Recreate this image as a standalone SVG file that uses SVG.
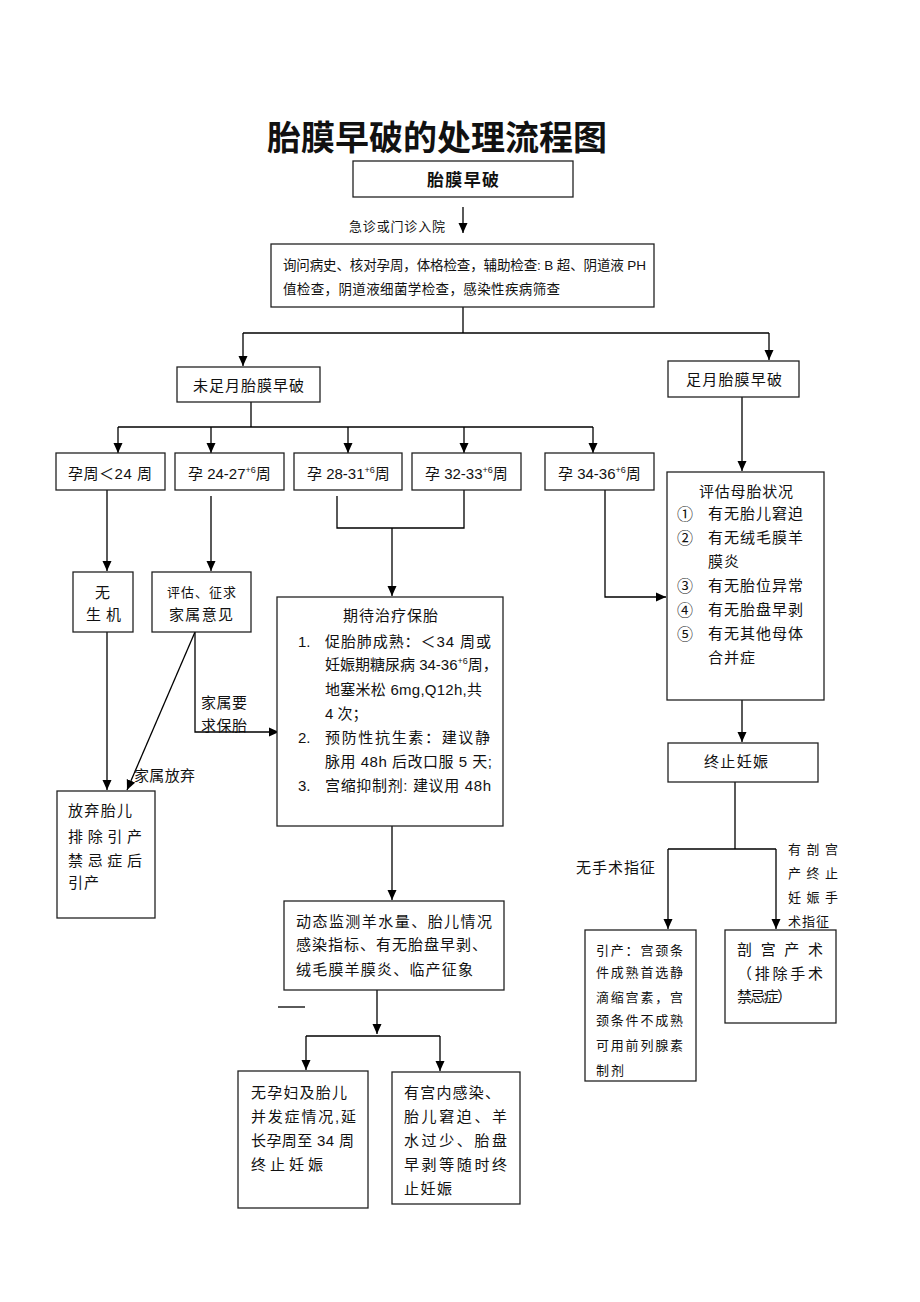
<svg xmlns="http://www.w3.org/2000/svg" width="920" height="1302" viewBox="0 0 920 1302">
<defs>
<marker id="arr" markerUnits="userSpaceOnUse" markerWidth="10" markerHeight="10" refX="10" refY="5" orient="auto">
<path d="M0,0.5 L10,5 L0,9.5 z" fill="#000"/>
</marker>
<style>
.box{fill:#fff;stroke:#222;stroke-width:1.3}
.ln{fill:none;stroke:#000;stroke-width:1.3}
.ar{fill:none;stroke:#000;stroke-width:1.3;marker-end:url(#arr)}
text{font-family:"Liberation Sans","Noto Sans CJK SC",sans-serif;fill:#111}
.t15{font-size:15px}
.t13{font-size:13px}
.sup{font-size:9px}
.cn{font-family:"Noto Sans CJK SC",sans-serif;font-size:16px}
</style>
</defs>
<rect width="920" height="1302" fill="#fff"/>

<text x="267" y="150" font-size="34" font-weight="bold" textLength="340" lengthAdjust="spacing">胎膜早破的处理流程图</text>

<g id="connectors">
<path class="ar" d="M463,207 V233"/>
<path class="ln" d="M463,307 V333"/>
<path class="ln" d="M243,333 H769"/>
<path class="ar" d="M243,333 V366"/>
<path class="ar" d="M769,333 V360"/>
<path class="ln" d="M251,402 V427"/>
<path class="ln" d="M118,427 H593"/>
<path class="ar" d="M118,427 V453"/>
<path class="ar" d="M211,427 V453"/>
<path class="ar" d="M348,427 V453"/>
<path class="ar" d="M464,427 V453"/>
<path class="ar" d="M593,427 V453"/>
<path class="ar" d="M107,490 V571"/>
<path class="ar" d="M211,496 V571"/>
<path class="ln" d="M337,496 V528 H464 V490"/>
<path class="ar" d="M392,528 V596"/>
<path class="ar" d="M605,490 V597 H666"/>
<path class="ar" d="M742,397 V471"/>
<path class="ar" d="M742,700 V742"/>
<path class="ln" d="M735,782 V849"/>
<path class="ln" d="M668,849 H776"/>
<path class="ar" d="M668,849 V929"/>
<path class="ar" d="M776,849 V929"/>
<path class="ar" d="M107,632 V790"/>
<path class="ar" d="M195,632 L127,790"/>
<path class="ar" d="M195,632 V732 H279"/>
<path class="ar" d="M392,826 V900"/>
<path class="ln" d="M278,1007 H305"/>
<path class="ar" d="M377,990 V1034"/>
<path class="ln" d="M306,1036 H440"/>
<path class="ar" d="M306,1036 V1070"/>
<path class="ar" d="M440,1036 V1071"/>
</g>

<g id="edge-labels">
<text class="t13" x="349" y="231" textLength="96" lengthAdjust="spacing">急诊或门诊入院</text>
<text class="t15" x="134" y="781" textLength="61" lengthAdjust="spacing">家属放弃</text>
<text class="t15" x="201" y="708" textLength="46" lengthAdjust="spacing">家属要</text>
<text class="t15" x="201" y="731" textLength="46" lengthAdjust="spacing">求保胎</text>
<text class="t15" x="576" y="873" textLength="79" lengthAdjust="spacing">无手术指征</text>
<text class="t13" x="788" y="854" textLength="50" lengthAdjust="spacing">有 剖 宫</text>
<text class="t13" x="788" y="878" textLength="50" lengthAdjust="spacing">产 终 止</text>
<text class="t13" x="788" y="902" textLength="50" lengthAdjust="spacing">妊 娠 手</text>
<text class="t13" x="788" y="926" textLength="41" lengthAdjust="spacing">术指征</text>
</g>

<g id="n-start">
<rect class="box" x="353" y="161" width="220" height="36"/>
<text x="427" y="186" font-size="17" font-weight="bold" textLength="72" lengthAdjust="spacing">胎膜早破</text>
</g>

<g id="n-exam">
<rect class="box" x="271" y="244" width="383" height="63"/>
<text x="283" y="270" font-size="13.5" textLength="363" lengthAdjust="spacing">询问病史、核对孕周，体格检查，辅助检查: B 超、阴道液 PH</text>
<text x="283" y="294" font-size="13.5" textLength="277" lengthAdjust="spacing">值检查，阴道液细菌学检查，感染性疾病筛查</text>
</g>

<g id="n-preterm">
<rect class="box" x="177" y="367" width="143" height="35"/>
<text class="t15" x="193" y="391" textLength="111" lengthAdjust="spacing">未足月胎膜早破</text>
</g>

<g id="n-term">
<rect class="box" x="668" y="361" width="131" height="36"/>
<text class="t15" x="686" y="385" textLength="96" lengthAdjust="spacing">足月胎膜早破</text>
</g>

<g id="n-w24">
<rect class="box" x="56" y="453" width="109" height="37"/>
<text class="t15" x="68" y="479" textLength="84" lengthAdjust="spacing">孕周＜24 周</text>
</g>

<g id="n-w24-27">
<rect class="box" x="175" y="453" width="109" height="37"/>
<text class="t15" x="188" y="479">孕 24-27<tspan class="sup" dy="-6">+6</tspan><tspan dy="6">周</tspan></text>
</g>

<g id="n-w28-31">
<rect class="box" x="294" y="453" width="108" height="37"/>
<text class="t15" x="307" y="479">孕 28-31<tspan class="sup" dy="-6">+6</tspan><tspan dy="6">周</tspan></text>
</g>

<g id="n-w32-33">
<rect class="box" x="412" y="453" width="109" height="37"/>
<text class="t15" x="425" y="479">孕 32-33<tspan class="sup" dy="-6">+6</tspan><tspan dy="6">周</tspan></text>
</g>

<g id="n-w34-36">
<rect class="box" x="545" y="453" width="109" height="37"/>
<text class="t15" x="558" y="479">孕 34-36<tspan class="sup" dy="-6">+6</tspan><tspan dy="6">周</tspan></text>
</g>

<g id="n-assess">
<rect class="box" x="667" y="472" width="157" height="228"/>
<text class="t15" x="699" y="497" textLength="94" lengthAdjust="spacing">评估母胎状况</text>
<text class="cn" x="677" y="520">①</text>
<text class="t15" x="708" y="519" textLength="95" lengthAdjust="spacing">有无胎儿窘迫</text>
<text class="cn" x="677" y="544">②</text>
<text class="t15" x="708" y="543" textLength="95" lengthAdjust="spacing">有无绒毛膜羊</text>
<text class="t15" x="708" y="567" textLength="31" lengthAdjust="spacing">膜炎</text>
<text class="cn" x="677" y="592">③</text>
<text class="t15" x="708" y="591" textLength="95" lengthAdjust="spacing">有无胎位异常</text>
<text class="cn" x="677" y="616">④</text>
<text class="t15" x="708" y="615" textLength="95" lengthAdjust="spacing">有无胎盘早剥</text>
<text class="cn" x="677" y="640">⑤</text>
<text class="t15" x="708" y="639" textLength="95" lengthAdjust="spacing">有无其他母体</text>
<text class="t15" x="708" y="663" textLength="47" lengthAdjust="spacing">合并症</text>
</g>

<g id="n-noviable">
<rect class="box" x="73" y="572" width="60" height="60"/>
<text class="t15" x="95" y="598">无</text>
<text class="t15" x="86" y="620" textLength="35" lengthAdjust="spacing">生 机</text>
</g>

<g id="n-consult">
<rect class="box" x="152" y="572" width="99" height="60"/>
<text class="t13" x="167" y="597" textLength="69" lengthAdjust="spacing">评估、征求</text>
<text class="t15" x="169" y="620" textLength="64" lengthAdjust="spacing">家属意见</text>
</g>

<g id="n-expect">
<rect class="box" x="277" y="597" width="226" height="229"/>
<text class="t15" x="343" y="621" textLength="95" lengthAdjust="spacing">期待治疗保胎</text>
<text class="t15" x="298" y="647">1.</text>
<text class="t15" x="325" y="647" textLength="166" lengthAdjust="spacing">促胎肺成熟：＜34 周或</text>
<text class="t15" x="325" y="670">妊娠期糖尿病 34-36<tspan class="sup" dy="-6">+6</tspan><tspan dy="6">周，</tspan></text>
<text class="t15" x="325" y="695" textLength="157" lengthAdjust="spacing">地塞米松 6mg,Q12h,共</text>
<text class="t15" x="325" y="719">4 次；</text>
<text class="t15" x="298" y="743">2.</text>
<text class="t15" x="325" y="743" textLength="165" lengthAdjust="spacing">预防性抗生素：建议静</text>
<text class="t15" x="325" y="767" textLength="167" lengthAdjust="spacing">脉用 48h 后改口服 5 天;</text>
<text class="t15" x="298" y="791">3.</text>
<text class="t15" x="325" y="791" textLength="166" lengthAdjust="spacing">宫缩抑制剂: 建议用 48h</text>
</g>

<g id="n-abandon">
<rect class="box" x="57" y="791" width="98" height="127"/>
<text class="t15" x="68" y="816" textLength="64" lengthAdjust="spacing">放弃胎儿</text>
<text class="t15" x="68" y="842" textLength="74" lengthAdjust="spacing">排除引产</text>
<text class="t15" x="68" y="866" textLength="74" lengthAdjust="spacing">禁忌症后</text>
<text class="t15" x="68" y="888" textLength="31" lengthAdjust="spacing">引产</text>
</g>

<g id="n-terminate">
<rect class="box" x="668" y="743" width="150" height="39"/>
<text class="t15" x="704" y="767" textLength="64" lengthAdjust="spacing">终止妊娠</text>
</g>

<g id="n-induce">
<rect class="box" x="585" y="930" width="111" height="151"/>
<text class="t13" x="596" y="955" textLength="87" lengthAdjust="spacing">引产：宫颈条</text>
<text class="t13" x="596" y="977" textLength="87" lengthAdjust="spacing">件成熟首选静</text>
<text class="t13" x="596" y="1002" textLength="87" lengthAdjust="spacing">滴缩宫素，宫</text>
<text class="t13" x="596" y="1025" textLength="87" lengthAdjust="spacing">颈条件不成熟</text>
<text class="t13" x="596" y="1050" textLength="87" lengthAdjust="spacing">可用前列腺素</text>
<text class="t13" x="596" y="1075" textLength="28" lengthAdjust="spacing">制剂</text>
</g>

<g id="n-cesarean">
<rect class="box" x="725" y="930" width="111" height="93"/>
<text class="t15" x="737" y="955" textLength="86" lengthAdjust="spacing">剖 宫 产 术</text>
<text class="t15" x="737" y="979" textLength="86" lengthAdjust="spacing">（排除手术</text>
<text class="t15" x="737" y="1002" textLength="55" lengthAdjust="spacing">禁忌症）</text>
</g>

<g id="n-monitor">
<rect class="box" x="284" y="901" width="220" height="89"/>
<text class="t15" x="296" y="927" textLength="196" lengthAdjust="spacing">动态监测羊水量、胎儿情况</text>
<text class="t15" x="296" y="950" textLength="191" lengthAdjust="spacing">感染指标、有无胎盘早剥、</text>
<text class="t15" x="296" y="975" textLength="177" lengthAdjust="spacing">绒毛膜羊膜炎、临产征象</text>
</g>

<g id="n-prolong">
<rect class="box" x="238" y="1071" width="130" height="137"/>
<text class="t15" x="251" y="1098" textLength="96" lengthAdjust="spacing">无孕妇及胎儿</text>
<text class="t15" x="251" y="1122" textLength="105" lengthAdjust="spacing">并发症情况,延</text>
<text class="t15" x="251" y="1146" textLength="103" lengthAdjust="spacing">长孕周至 34 周</text>
<text class="t15" x="251" y="1170" textLength="72" lengthAdjust="spacing">终止妊娠</text>
</g>

<g id="n-immediate">
<rect class="box" x="392" y="1072" width="128" height="132"/>
<text class="t15" x="404" y="1098" textLength="96" lengthAdjust="spacing">有宫内感染、</text>
<text class="t15" x="404" y="1122" textLength="103" lengthAdjust="spacing">胎儿窘迫、羊</text>
<text class="t15" x="404" y="1146" textLength="103" lengthAdjust="spacing">水过少、胎盘</text>
<text class="t15" x="404" y="1170" textLength="103" lengthAdjust="spacing">早剥等随时终</text>
<text class="t15" x="404" y="1194" textLength="48" lengthAdjust="spacing">止妊娠</text>
</g>
</svg>
